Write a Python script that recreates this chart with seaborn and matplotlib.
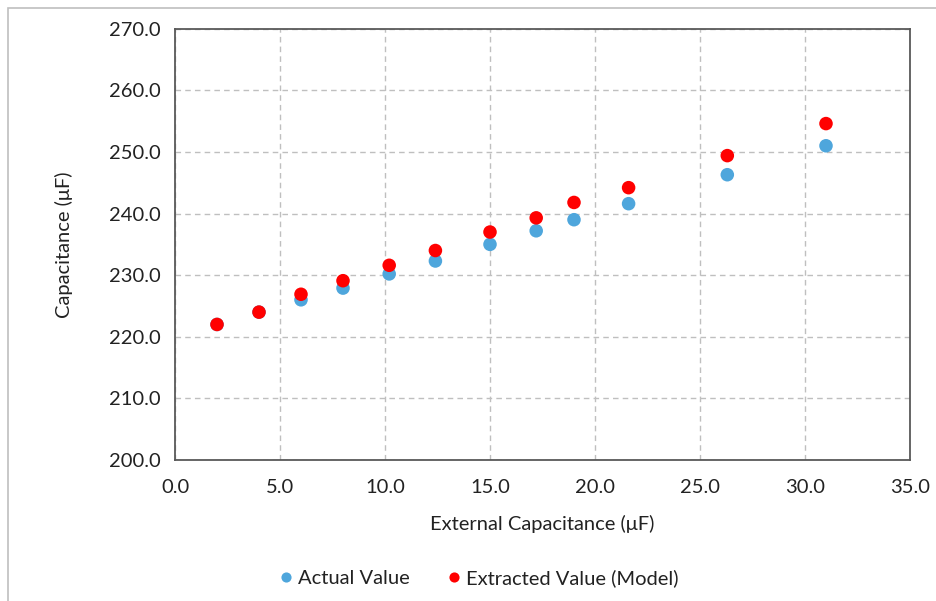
import matplotlib
matplotlib.use("Agg")
import matplotlib.pyplot as plt
from matplotlib.patches import Rectangle
import seaborn as sns
import pandas as pd

# Data
external_cap = [2.0, 4.0, 6.0, 8.0, 10.2, 12.4, 15.0, 17.2, 19.0, 21.6, 26.3, 31.0]
actual_value = [222.0, 224.0, 226.0, 227.9, 230.2, 232.3, 235.0, 237.2, 239.0, 241.6, 246.3, 251.0]
extracted_value = [222.0, 224.0, 226.9, 229.1, 231.6, 234.0, 237.0, 239.3, 241.8, 244.2, 249.4, 254.6]
series_names = ["Actual Value", "Extracted Value (Model)"]
x_ticks = [0, 5, 10, 15, 20, 25, 30, 35]
y_ticks = [200, 210, 220, 230, 240, 250, 260, 270]

df = pd.concat([
    pd.DataFrame({"x": external_cap, "y": actual_value, "series": series_names[0]}),
    pd.DataFrame({"x": external_cap, "y": extracted_value, "series": series_names[1]}),
], ignore_index=True)

sns.set_theme(style="white")
plt.rcParams["font.family"] = ["Lato", "DejaVu Sans"]

fig = plt.figure(figsize=(9.36, 6.01), dpi=100)
ax = fig.add_axes([175/936, 1 - 460/601, (910-175)/936, (460-28.7)/601])

palette = {series_names[0]: "#4EA6DC", series_names[1]: "#FF0000"}
sns.scatterplot(data=df, x="x", y="y", hue="series", palette=palette,
                s=95, edgecolor="none", linewidth=0, ax=ax, zorder=3)

ax.set_xlim(0, 35)
ax.set_ylim(200, 270)
ax.set_xticks(x_ticks)
ax.set_yticks(y_ticks)
ax.set_xticklabels([f"{v:.1f}" for v in x_ticks])
ax.set_yticklabels([f"{v:.1f}" for v in y_ticks])
ax.tick_params(axis="both", length=0, labelsize=14.5, colors="#222222")
ax.tick_params(axis="x", pad=14)
ax.tick_params(axis="y", pad=10)

ax.grid(True, linestyle=(0, (4, 3)), color="#BFBFBF", linewidth=1.0)
ax.set_axisbelow(True)
for sp in ax.spines.values():
    sp.set_color("#595959")
    sp.set_linewidth(1.3)

ax.set_xlabel("External Capacitance (μF)", fontsize=14.5, color="#222222", labelpad=13)
ax.set_ylabel("Capacitance (μF)", fontsize=14.5, color="#222222", labelpad=26)

leg = ax.legend(loc="center", bbox_to_anchor=(476/936, 1 - 578/601),
                bbox_transform=fig.transFigure, ncol=2, frameon=False,
                fontsize=14.5, handletextpad=0.0, columnspacing=1.6,
                handlelength=1.2, markerscale=0.75)
for t in leg.get_texts():
    t.set_color("#222222")

fig.add_artist(Rectangle((8/936, -0.1), 1.2, (601-8)/601 + 0.1, fill=False,
                         edgecolor="#BFBFBF", linewidth=1.2,
                         transform=fig.transFigure))

fig.savefig("out.png", dpi=100)
